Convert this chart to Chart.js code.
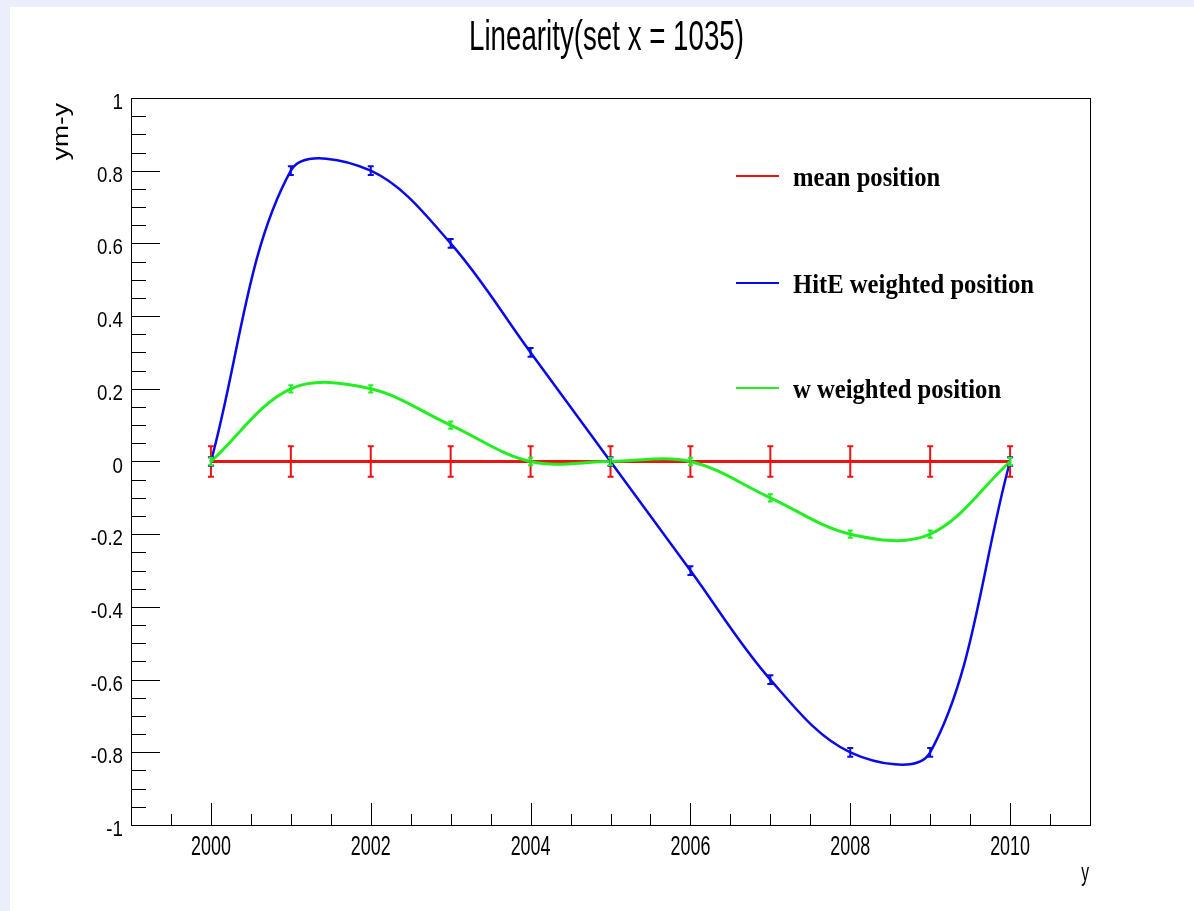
<!DOCTYPE html>
<html>
<head>
<meta charset="utf-8">
<title>Linearity(set x = 1035)</title>
<script src="https://cdn.jsdelivr.net/npm/chart.js@4.4.1/dist/chart.umd.min.js"></script>
<style>
  html, body { margin: 0; padding: 0; background: #fff; overflow: hidden; }
  canvas { display: block; }
</style>
</head>
<body>
<canvas id="lin-chart" width="1194" height="911"></canvas>
<script>
// scan points (y position) and residuals ym - y
const years    = [2000, 2001, 2002, 2003, 2004, 2005, 2006, 2007, 2008, 2009, 2010];
const meanPos  = [0, 0, 0, 0, 0, 0, 0, 0, 0, 0, 0];
const hitePos  = [0, 0.8, 0.8, 0.6, 0.3, 0, -0.3, -0.6, -0.8, -0.8, 0];
const wPos     = [0, 0.2, 0.2, 0.1, 0, 0, 0, -0.1, -0.2, -0.2, 0];
const meanErr  = [0.042, 0.042, 0.042, 0.042, 0.042, 0.042, 0.042, 0.042, 0.042, 0.042, 0.042];
const hiteErr  = [0.012, 0.012, 0.012, 0.012, 0.012, 0.012, 0.012, 0.012, 0.012, 0.012, 0.012];
const wErr     = [0.01, 0.01, 0.01, 0.01, 0.01, 0.01, 0.01, 0.01, 0.01, 0.01, 0.01];

const xTicks = [2000, 2002, 2004, 2006, 2008, 2010];
const yTicks = [-1, -0.8, -0.6, -0.4, -0.2, 0, 0.2, 0.4, 0.6, 0.8, 1];

const seriesNames  = ['mean position', 'HitE weighted position', 'w weighted position'];
const seriesColors = ['#ee1111', '#0a0ae6', '#22ee22'];

const SANS  = '"Liberation Sans", Arial, sans-serif';
const SERIF = '"Liberation Serif", "Times New Roman", serif';

// condensed text, like the old X11 Helvetica rendering
function squeezeText(ctx, text, x, y, font, sx, align, angle) {
  ctx.save();
  ctx.translate(x, y);
  if (angle) ctx.rotate(angle);
  ctx.scale(sx, 1);
  ctx.font = font;
  ctx.fillStyle = '#000';
  ctx.textAlign = align;
  ctx.textBaseline = 'alphabetic';
  ctx.fillText(text, 0, 0);
  ctx.restore();
}

const padFrame = {
  id: 'padFrame',
  beforeDraw(chart) {
    const ctx = chart.ctx;
    ctx.save();
    ctx.fillStyle = '#eceffb';
    ctx.fillRect(0, 0, chart.width, chart.height);
    ctx.fillStyle = '#ffffff';
    ctx.fillRect(10, 7, chart.width - 10, chart.height - 7);
    ctx.restore();
  },
  afterDraw(chart) {
    const ctx = chart.ctx;
    const { left, right, top, bottom } = chart.chartArea;
    const xs = chart.scales.x, ys = chart.scales.y;

    ctx.save();
    ctx.strokeStyle = '#000';
    ctx.lineWidth = 1;
    ctx.strokeRect(Math.round(left) + 0.5, Math.round(top) + 0.5, Math.round(right - left), Math.round(bottom - top));

    // tick marks drawn inward, ROOT style
    ctx.beginPath();
    for (let v = -1; v <= 1.0001; v += 0.05) {
      const py = Math.round(ys.getPixelForValue(v)) + 0.5;
      const major = Math.abs(v * 5 - Math.round(v * 5)) < 1e-6;
      ctx.moveTo(left, py);
      ctx.lineTo(left + (major ? 29 : 15), py);
    }
    for (let v = xs.min + 0.5; v < xs.max; v += 0.5) {
      const px = Math.round(xs.getPixelForValue(v)) + 0.5;
      const major = xTicks.includes(v);
      ctx.moveTo(px, bottom);
      ctx.lineTo(px, bottom - (major ? 22 : 11));
    }
    ctx.stroke();
    ctx.restore();

    yTicks.forEach(v => {
      squeezeText(ctx, String(+v.toFixed(1)), left - 8, ys.getPixelForValue(v) + 11, '22px ' + SANS, 0.85, 'right');
    });
    xTicks.forEach(v => {
      squeezeText(ctx, String(v), xs.getPixelForValue(v), bottom + 30, '28px ' + SANS, 0.64, 'center');
    });

    // titles
    squeezeText(ctx, 'Linearity(set x = 1035)', (left + right) / 2 - 4, 50, '42px ' + SANS, 0.66, 'center');
    squeezeText(ctx, 'y', right - 1, 881, '26px ' + SANS, 0.6, 'right');
    squeezeText(ctx, 'ym-y', 68, top + 5, '22px ' + SANS, 1.2, 'right', -Math.PI / 2);

    // legend
    const legendY = [176, 283, 388];
    seriesNames.forEach((name, i) => {
      ctx.save();
      ctx.strokeStyle = seriesColors[i];
      ctx.lineWidth = 2;
      ctx.beginPath();
      ctx.moveTo(736, legendY[i]);
      ctx.lineTo(779, legendY[i]);
      ctx.stroke();
      ctx.restore();
      squeezeText(ctx, name, 793, legendY[i] + 10, 'bold 28px ' + SERIF, 0.88, 'left');
    });
  }
};

// vertical error bars with small caps
const errorBars = {
  id: 'errorBars',
  afterDatasetsDraw(chart) {
    const ctx = chart.ctx;
    const xs = chart.scales.x, ys = chart.scales.y;
    const sets = [[meanPos, meanErr, 3], [hitePos, hiteErr, 3], [wPos, wErr, 2.5]];
    ctx.save();
    sets.forEach(([vals, errs, cap], k) => {
      ctx.strokeStyle = seriesColors[k];
      ctx.lineWidth = 2;
      ctx.beginPath();
      years.forEach((yr, i) => {
        const px = xs.getPixelForValue(yr);
        const y1 = ys.getPixelForValue(vals[i] + errs[i]);
        const y2 = ys.getPixelForValue(vals[i] - errs[i]);
        ctx.moveTo(px, y1); ctx.lineTo(px, y2);
        ctx.moveTo(px - cap, y1); ctx.lineTo(px + cap, y1);
        ctx.moveTo(px - cap, y2); ctx.lineTo(px + cap, y2);
      });
      ctx.stroke();
    });
    ctx.restore();
  }
};

const toPoints = arr => years.map((x, i) => ({ x, y: arr[i] }));

new Chart(document.getElementById('lin-chart'), {
  type: 'line',
  data: {
    datasets: [
      { label: seriesNames[0], data: toPoints(meanPos), borderColor: seriesColors[0], borderWidth: 3, tension: 0, order: 3 },
      { label: seriesNames[1], data: toPoints(hitePos), borderColor: seriesColors[1], borderWidth: 2.5, tension: 0.35, order: 2 },
      { label: seriesNames[2], data: toPoints(wPos),    borderColor: seriesColors[2], borderWidth: 3, tension: 0.35, order: 1 }
    ]
  },
  options: {
    responsive: false,
    animation: false,
    layout: { padding: { left: 131, right: 104, top: 98, bottom: 86 } },
    elements: { point: { radius: 0, hoverRadius: 0 } },
    plugins: { legend: { display: false }, tooltip: { enabled: false }, title: { display: false } },
    scales: {
      x: { type: 'linear', min: 1999, max: 2011, display: false },
      y: { type: 'linear', min: -1, max: 1, display: false }
    }
  },
  plugins: [padFrame, errorBars]
});
</script>
</body>
</html>
